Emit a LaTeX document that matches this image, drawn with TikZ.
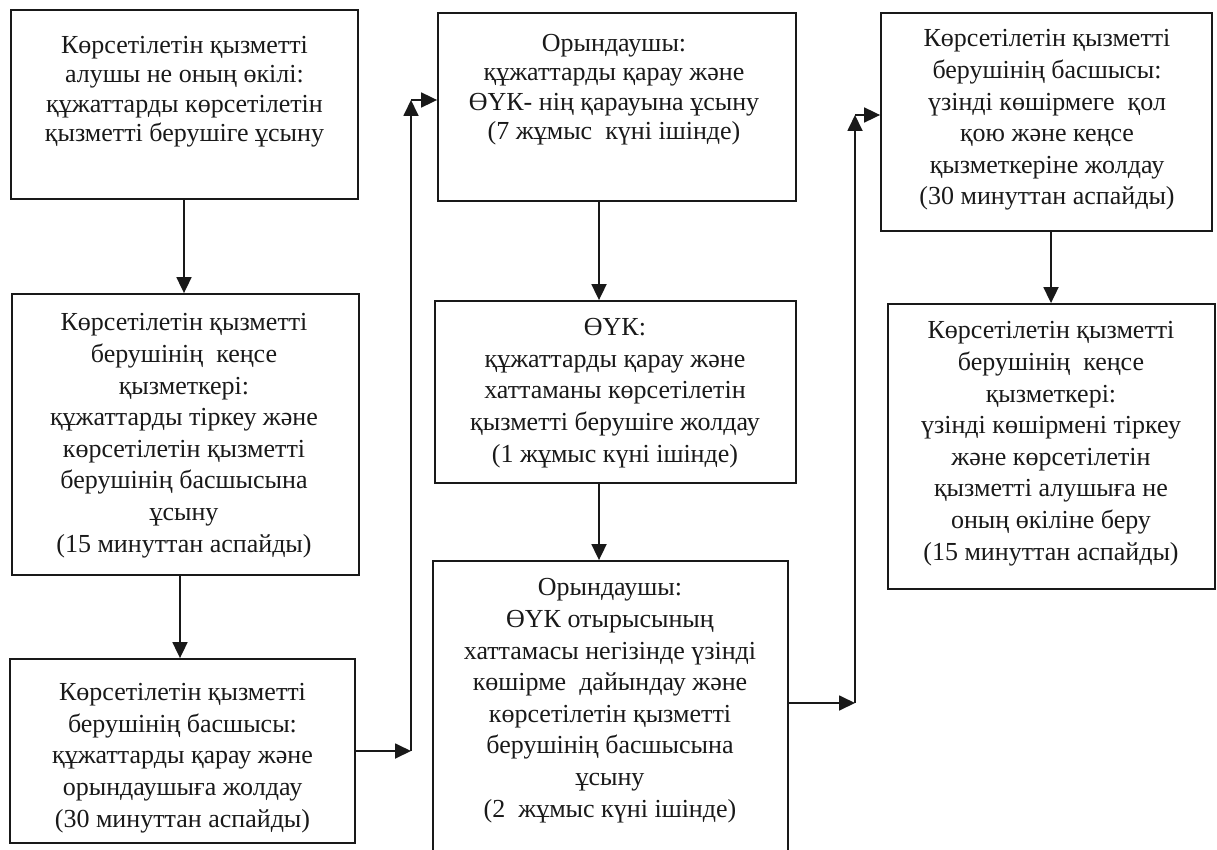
\documentclass[tikz,border=0pt]{standalone}
\usepackage{fontspec}
\setmainfont{Liberation Serif}
\usetikzlibrary{arrows.meta}
\tikzset{
  box/.style={draw=black!90, line width=1.8pt, inner sep=0pt, fill=none},
  txt/.style={anchor=base, align=center, inner sep=0pt, text=black!90,
    font=\fontsize{26}{31.6}\selectfont},
  tight/.style={font=\fontsize{26}{29.5}\selectfont},
  arr/.style={draw=black!90, line width=1.8pt,
    -{Triangle[length=16pt,width=15pt]}},
}
\begin{document}
\begin{tikzpicture}[x=1pt,y=-1pt]
\useasboundingbox (0,0) rectangle (1217,850);
\clip (0,0) rectangle (1217,850);
% boxes
\node[box, minimum width=347, minimum height=189] (A) at (184.5,104.5) {};
\node[box, minimum width=347, minimum height=281] (B) at (185.5,434.5) {};
\node[box, minimum width=345, minimum height=184] (C) at (182.5,751) {};
\node[box, minimum width=358, minimum height=188] (D) at (617,107) {};
\node[box, minimum width=361, minimum height=182] (E) at (615.5,392) {};
\node[box, minimum width=355, minimum height=309] (F) at (610.5,715.5) {};
\node[box, minimum width=331, minimum height=218] (G) at (1046.5,122) {};
\node[box, minimum width=327, minimum height=285] (H) at (1051.5,446.5) {};
% texts (anchor base = baseline of the last line)
\node[txt, tight] (tA) at (184.5,142) {Көрсетілетін қызметті\\алушы не оның өкілі:\\құжаттарды көрсетілетін\\қызметті берушіге ұсыну};
\node[txt] (tB) at (184,552) {Көрсетілетін қызметті\\берушінің\ \ кеңсе\\қызметкері:\\құжаттарды тіркеу және\\көрсетілетін қызметті\\берушінің басшысына\\ұсыну\\(15 минуттан аспайды)};
\node[txt] (tC) at (182.5,827) {Көрсетілетін қызметті\\берушінің басшысы:\\құжаттарды қарау және\\орындаушыға жолдау\\(30 минуттан аспайды)};
\node[txt, tight] (tD) at (614,140) {Орындаушы:\\құжаттарды қарау және\\ӨҮК- нің қарауына ұсыну\\(7 жұмыс\ \ күні ішінде)};
\node[txt] (tE) at (615,462) {ӨҮК:\\құжаттарды қарау және\\хаттаманы көрсетілетін\\қызметті берушіге жолдау\\(1 жұмыс күні ішінде)};
\node[txt] (tF) at (610,817) {Орындаушы:\\ӨҮК отырысының\\хаттамасы негізінде үзінді\\көшірме\ \ дайындау және\\көрсетілетін қызметті\\берушінің басшысына\\ұсыну\\(2\ \ жұмыс күні ішінде)};
\node[txt] (tG) at (1047,205) {Көрсетілетін қызметті\\берушінің басшысы:\\үзінді көшірмеге\ \ қол\\қою және кеңсе\\қызметкеріне жолдау\\(30 минуттан аспайды)};
\node[txt] (tH) at (1051,560) {Көрсетілетін қызметті\\берушінің\ \ кеңсе\\қызметкері:\\үзінді көшірмені тіркеу\\және көрсетілетін\\қызметті алушыға не\\оның өкіліне беру\\(15 минуттан аспайды)};
% vertical connectors
\draw[arr] (184,0 |- A.south) -- (184,0 |- B.north);
\draw[arr] (180,0 |- B.south) -- (180,0 |- C.north);
\draw[arr] (599,0 |- D.south) -- (599,0 |- E.north);
\draw[arr] (599,0 |- E.south) -- (599,0 |- F.north);
\draw[arr] (1051,0 |- G.south) -- (1051,0 |- H.north);
% elbow connectors C -> D
\coordinate (c1) at (411,0 |- C.east);
\coordinate (c2) at (411,100);
\draw[arr] (C.east) -- (c1);
\draw[arr] (c1) -- (c2);
\draw[arr] (c2) -- (c2 -| D.west);
% elbow connectors F -> G
\coordinate (f0) at (F.east |- 0,703);
\coordinate (f1) at (855,703);
\coordinate (f2) at (855,115);
\draw[arr] (f0) -- (f1);
\draw[arr] (f1) -- (f2);
\draw[arr] (f2) -- (f2 -| G.west);
\end{tikzpicture}
\end{document}
